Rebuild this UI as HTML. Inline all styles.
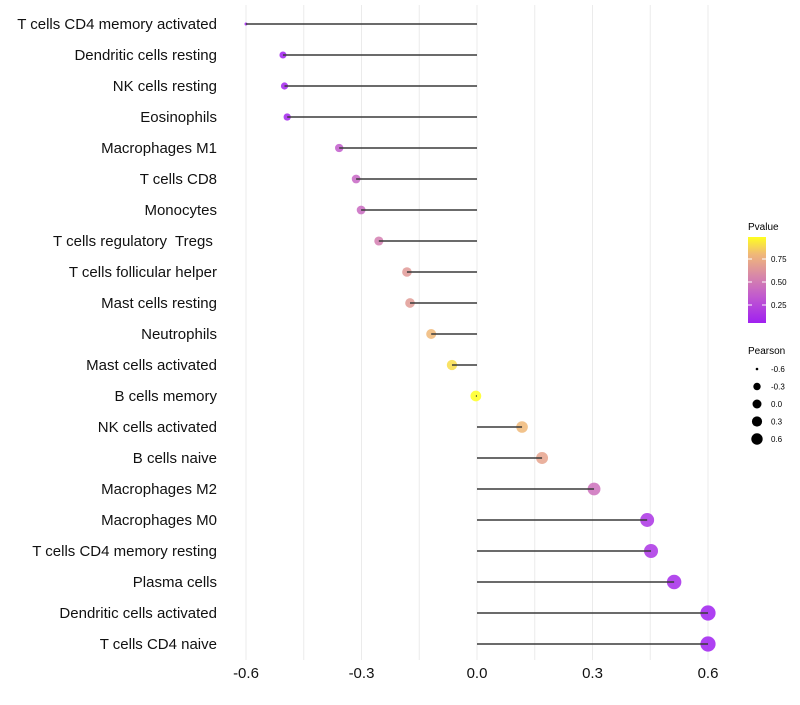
<!DOCTYPE html>
<html><head><meta charset="utf-8"><style>
body{margin:0;background:#fff;font-family:"Liberation Sans",Arial,sans-serif}
svg text{font-family:"Liberation Sans",Arial,sans-serif;white-space:pre}
</style></head><body>
<svg id="chart" width="800" height="700" xmlns="http://www.w3.org/2000/svg">
<defs><linearGradient id="pg" x1="0" y1="1" x2="0" y2="0">
<stop offset="0" stop-color="#a020f0"/><stop offset="0.3" stop-color="#c058d0"/><stop offset="0.55" stop-color="#d888a8"/><stop offset="0.8" stop-color="#f0b878"/><stop offset="1" stop-color="#ffff20"/>
</linearGradient></defs>
<g id="grid"></g><g id="marks"></g><g id="ylabels"></g><g id="xlabels"></g>
<g>
<text x="748" y="230" font-size="10">Pvalue</text>
<rect x="748" y="237" width="18" height="86" fill="url(#pg)"/>
<line x1="748" y1="259" x2="752" y2="259" stroke="#fff"/><line x1="762" y1="259" x2="766" y2="259" stroke="#fff"/>
<line x1="748" y1="282" x2="752" y2="282" stroke="#fff"/><line x1="762" y1="282" x2="766" y2="282" stroke="#fff"/>
<line x1="748" y1="305" x2="752" y2="305" stroke="#fff"/><line x1="762" y1="305" x2="766" y2="305" stroke="#fff"/>
<text x="771" y="262" font-size="8">0.75</text><text x="771" y="285" font-size="8">0.50</text><text x="771" y="308" font-size="8">0.25</text>
</g>
<g id="sizeleg">
<text x="748" y="354" font-size="10">Pearson</text>
</g>
</svg>
<script>
const categories=["T cells CD4 memory activated","Dendritic cells resting","NK cells resting","Eosinophils","Macrophages M1","T cells CD8","Monocytes","T cells regulatory  Tregs ","T cells follicular helper","Mast cells resting","Neutrophils","Mast cells activated","B cells memory","NK cells activated","B cells naive","Macrophages M2","Macrophages M0","T cells CD4 memory resting","Plasma cells","Dendritic cells activated","T cells CD4 naive"];
const pearson=[-0.60,-0.504,-0.50,-0.493,-0.358,-0.314,-0.301,-0.255,-0.182,-0.174,-0.119,-0.065,-0.003,0.117,0.169,0.304,0.442,0.452,0.512,0.60,0.60];
const pvalues=[0.02,0.05,0.07,0.08,0.35,0.40,0.42,0.52,0.65,0.66,0.80,0.90,0.99,0.80,0.70,0.45,0.15,0.15,0.10,0.05,0.05];
const xTicks=[-0.6,-0.3,0,0.3,0.6];
const legendVals=[-0.6,-0.3,0,0.3,0.6];
const NS="http://www.w3.org/2000/svg";
const xs=v=>477+v*385;
const ys=i=>24+i*31;
const rTab=[[-0.6,1.5],[-0.5,3.6],[-0.3,4.4],[0,5.4],[0.3,6.4],[0.6,7.6]];
function rad(v){for(let k=1;k<rTab.length;k++){if(v<=rTab[k][0]){const a=rTab[k-1],b=rTab[k],f=(v-a[0])/(b[0]-a[0]);return a[1]+(b[1]-a[1])*Math.max(0,f);}}return rTab[rTab.length-1][1];}
const lrad=v=>[1.3,3.7,4.5,5.1,5.7][legendVals.indexOf(v)];
const stops=[[0,[160,32,240]],[0.3,[192,88,208]],[0.55,[216,136,168]],[0.8,[240,184,120]],[1,[255,255,32]]];
function col(p){const t=Math.min(1,Math.max(0,(p-0.05)/0.94));for(let k=1;k<stops.length;k++){if(t<=stops[k][0]){const a=stops[k-1],b=stops[k],f=(t-a[0])/(b[0]-a[0]);return "rgb("+a[1].map((c,j)=>Math.round(c+(b[1][j]-c)*f)).join(",")+")";}}return "rgb(255,255,32)";}
function mk(tag,at,par){const e=document.createElementNS(NS,tag);for(const k in at)e.setAttribute(k,at[k]);document.getElementById(par).appendChild(e);return e;}
for(let v=-0.6;v<=0.61;v+=0.15){const l=mk("line",{x1:xs(v),x2:xs(v),y1:5,y2:660,stroke:"#ebebeb","stroke-width":1},"grid");

}
categories.forEach((c,i)=>{
const y=ys(i);
const p=mk("circle",{cx:xs(pearson[i]),cy:y,r:rad(pearson[i]),fill:col(pvalues[i]),"fill-opacity":0.85},"marks");


const s=mk("line",{x1:xs(0),x2:xs(pearson[i]),y1:y,y2:y,stroke:"#3a3a3a","stroke-width":1.4},"marks");


const t=mk("text",{x:217,y:y+5,"text-anchor":"end","font-size":15,fill:"#111"},"ylabels");
t.textContent=c;


});
xTicks.forEach(v=>{const t=mk("text",{x:xs(v),y:678,"text-anchor":"middle","font-size":15,fill:"#111"},"xlabels");
t.textContent=v===0?"0.0":v.toFixed(1);

});
legendVals.forEach((v,k)=>{const y=369+k*17.5;
const c=mk("circle",{cx:757,cy:y,r:lrad(v),fill:"#000"},"sizeleg");


const t=mk("text",{x:771,y:y+3,"font-size":8},"sizeleg");
t.textContent=v===0?"0.0":v.toFixed(1);

});
</script>
</body></html>
